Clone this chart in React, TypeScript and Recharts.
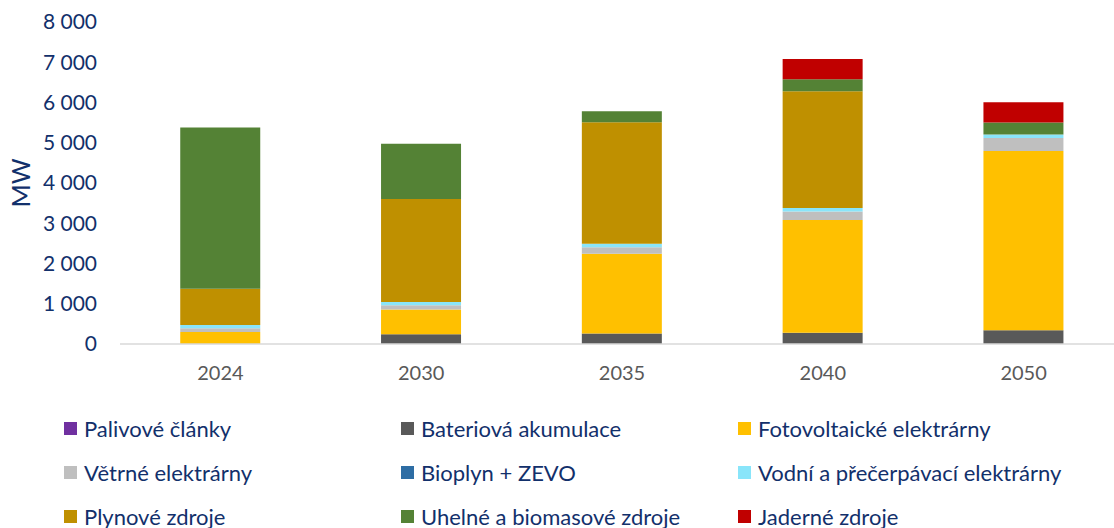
import { BarChart, Bar, XAxis, YAxis } from "recharts";

const years = ["2024", "2030", "2035", "2040", "2050"];

const palivove = [0, 0, 0, 0, 0];
const baterie = [0, 240, 260, 280, 340];
const fotovoltaika = [300, 620, 1980, 2800, 4455];
const vitr = [90, 100, 165, 215, 325];
const bioplyn = [0, 0, 0, 0, 0];
const voda = [80, 85, 85, 85, 85];
const plyn = [900, 2560, 3020, 2900, 0];
const uhli = [4010, 1370, 275, 300, 300];
const jadro = [0, 0, 0, 500, 500];

const yTicks = [0, 1000, 2000, 3000, 4000, 5000, 6000, 7000, 8000];

const series = [
  { key: "palivove", name: "Palivové články", color: "#7030A0", values: palivove },
  { key: "baterie", name: "Bateriová akumulace", color: "#595959", values: baterie },
  { key: "fotovoltaika", name: "Fotovoltaické elektrárny", color: "#FFC000", values: fotovoltaika },
  { key: "vitr", name: "Větrné elektrárny", color: "#BFBFBF", values: vitr },
  { key: "bioplyn", name: "Bioplyn + ZEVO", color: "#2E6DA4", values: bioplyn },
  { key: "voda", name: "Vodní a přečerpávací elektrárny", color: "#89E5FA", values: voda },
  { key: "plyn", name: "Plynové zdroje", color: "#BF9000", values: plyn },
  { key: "uhli", name: "Uhelné a biomasové zdroje", color: "#548235", values: uhli },
  { key: "jadro", name: "Jaderné zdroje", color: "#C00000", values: jadro },
];

const data = years.map((year, i) => {
  const row: Record<string, string | number> = { year };
  series.forEach((s) => {
    row[s.key] = s.values[i];
  });
  return row;
});

const NAVY = "#12306B";
const FONT = "Lato, 'Open Sans', sans-serif";

const fmt = (v: number) => String(v).replace(/\B(?=(\d{3})+(?!\d))/g, " ");

const legendCols = [64, 401, 738];
const legendRows = [428, 472, 516];

export default function App() {
  return (
    <div
      style={{
        position: "absolute",
        top: 0,
        left: 0,
        width: 1114,
        height: 528,
        overflow: "hidden",
        background: "#fff",
        fontFamily: FONT,
      }}
    >
      <BarChart
        width={1124}
        height={528}
        data={data}
        barCategoryGap="30%"
        margin={{ top: 22, right: 0, bottom: 144, left: 0 }}
      >
        <XAxis
          dataKey="year"
          axisLine={{ stroke: "#D9D9D9", strokeWidth: 1.5 }}
          tickLine={false}
          tickSize={0}
          tickMargin={22}
          height={40}
          tick={{ fill: "#595959", fontSize: 20, fontFamily: FONT }}
        />
        <YAxis
          width={120}
          domain={[0, 8000]}
          ticks={yTicks}
          axisLine={false}
          tickLine={false}
          tickSize={0}
          tickMargin={23}
          tickFormatter={fmt}
          tick={{ fill: NAVY, fontSize: 21, fontFamily: FONT }}
          label={(props: any) => {
            const vb = props.viewBox || {};
            const cy = (vb.y ?? 22) + (vb.height ?? 321) / 2;
            return (
              <text
                x={20}
                y={cy}
                transform={`rotate(-90, 20, ${cy})`}
                textAnchor="middle"
                dominantBaseline="central"
                fill={NAVY}
                fontSize={25}
                fontFamily={FONT}
              >
                MW
              </text>
            );
          }}
        />
        {series.map((s) => (
          <Bar
            key={s.key}
            dataKey={s.key}
            name={s.name}
            stackId="a"
            fill={s.color}
            isAnimationActive={false}
          />
        ))}
      </BarChart>
      {series.map((s, i) => {
        const col = i % 3;
        const row = Math.floor(i / 3);
        return (
          <div
            key={s.key}
            style={{
              position: "absolute",
              left: legendCols[col],
              top: legendRows[row] - 14,
              height: 28,
              display: "flex",
              alignItems: "center",
              whiteSpace: "nowrap",
              color: NAVY,
              fontSize: 22,
            }}
          >
            <span
              style={{
                display: "inline-block",
                width: 13,
                height: 13,
                background: s.color,
                marginRight: 7,
              }}
            />
            {s.name}
          </div>
        );
      })}
    </div>
  );
}
